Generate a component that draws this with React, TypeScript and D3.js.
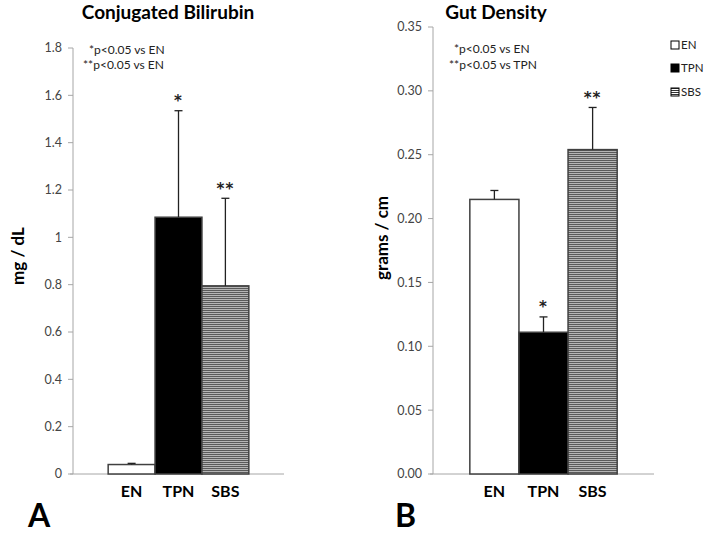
import React from "react";
import * as d3 from "d3";

const groups = ["EN", "TPN", "SBS"];
const bilirubinMean = [0.04, 1.085, 0.795];
const bilirubinErr = [0.005, 0.45, 0.37];
const bilirubinStars = ["", "*", "**"];
const bilirubinTicks = [0, 0.2, 0.4, 0.6, 0.8, 1, 1.2, 1.4, 1.6, 1.8];
const bilirubinNotes = ["*p<0.05  vs EN", "**p<0.05  vs EN"];

const gutMean = [0.215, 0.111, 0.254];
const gutErr = [0.007, 0.012, 0.033];
const gutStars = ["", "*", "**"];
const gutTicks = [0, 0.05, 0.1, 0.15, 0.2, 0.25, 0.3, 0.35];
const gutNotes = ["*p<0.05  vs EN", "**p<0.05  vs TPN"];

const FONT = "Lato, 'Noto Sans', sans-serif";

type PanelProps = {
  x0: number; x1: number; yTop: number; yBottom: number; max: number;
  mean: number[]; err: number[]; stars: string[]; ticks: number[];
  tickFmt: (v: number) => string; title: string; titleX: number;
  yLabel: string; yLabelX: number; yLabelY: number;
  notes: string[]; notesX: number[]; notesY: number[];
  letter: string; letterX: number;
};

function Panel(p: PanelProps) {
  const y = d3.scaleLinear().domain([0, p.max]).range([p.yBottom, p.yTop]);
  const w = p.x1 - p.x0;
  const x = d3.scaleBand<string>().domain(groups).range([p.x0 + w / 6, p.x1 - w / 6]).padding(0);
  const fills = ["#ffffff", "#000000", "url(#stripes)"];
  return (
    <g>
      <text x={p.titleX} y={19} textAnchor="middle" fontFamily={FONT} fontWeight="bold" fontSize={19} fill="#000">{p.title}</text>
      {p.notes.map((n, i) => (
        <text key={i} x={p.notesX[i]} y={p.notesY[i]} fontFamily={FONT} fontSize={12} fill="#222">{n}</text>
      ))}
      <line x1={p.x0} x2={p.x0} y1={p.yTop} y2={p.yBottom} stroke="#a6a6a6" strokeWidth={1} />
      <line x1={p.x0 - 3} x2={p.x1} y1={p.yBottom} y2={p.yBottom} stroke="#a6a6a6" strokeWidth={1} />
      {p.ticks.map((t, i) => (
        <g key={i}>
          <line x1={p.x0 - 5} x2={p.x0} y1={y(t)} y2={y(t)} stroke="#a6a6a6" />
          <text x={p.x0 - 11} y={y(t)} dy="0.35em" textAnchor="end" fontFamily={FONT} fontSize={12.5} fill="#444">{p.tickFmt(t)}</text>
        </g>
      ))}
      {groups.map((g, i) => {
        const bx = x(g)!;
        const bw = x.bandwidth();
        const top = y(p.mean[i]);
        const et = y(p.mean[i] + p.err[i]);
        const cx = bx + bw / 2;
        return (
          <g key={g}>
            <rect x={bx} y={top} width={bw} height={p.yBottom - top} fill={fills[i]} stroke="#404040" strokeWidth={1.5} />
            <line x1={cx} x2={cx} y1={top} y2={et} stroke="#222" strokeWidth={1.3} />
            <line x1={cx - 4} x2={cx + 4} y1={et} y2={et} stroke="#222" strokeWidth={1.3} />
            {p.stars[i] && (
              <text x={cx} y={et - 16} dy="0.75em" textAnchor="middle" fontFamily="'DejaVu Sans', sans-serif" fontWeight="bold" fontSize={15} letterSpacing={1} fill="#222">{p.stars[i]}</text>
            )}
            <text x={cx} y={497} textAnchor="middle" fontFamily={FONT} fontWeight="bold" fontSize={16} fill="#000">{g}</text>
          </g>
        );
      })}
      <text transform={`translate(${p.yLabelX},${p.yLabelY}) rotate(-90)`} textAnchor="middle" dy="0.35em" fontFamily={FONT} fontWeight="bold" fontSize={17} fill="#000">{p.yLabel}</text>
      <text x={p.letterX} y={527} fontFamily={FONT} fontWeight="bold" fontSize={32} fill="#000">{p.letter}</text>
    </g>
  );
}

export default function App() {
  const legendY = [45, 68, 92];
  const legendFill = ["#ffffff", "#000000", "url(#stripesSmall)"];
  return (
    <svg width={708} height={533} style={{ position: "absolute", left: 0, top: 0, background: "#fff" }}>
      <defs>
        <pattern id="stripes" width={4} height={2} patternUnits="userSpaceOnUse">
          <rect width={4} height={2} fill="#b5b5b5" />
          <rect width={4} height={1} fill="#5a5a5a" />
        </pattern>
        <pattern id="stripesSmall" width={4} height={2} patternUnits="userSpaceOnUse">
          <rect width={4} height={2} fill="#ffffff" />
          <rect width={4} height={1} fill="#333" />
        </pattern>
      </defs>
      <rect width={708} height={533} fill="#fff" />
      <Panel x0={73} x1={284} yTop={48} yBottom={474} max={1.8}
        mean={bilirubinMean} err={bilirubinErr} stars={bilirubinStars} ticks={bilirubinTicks}
        tickFmt={(v) => (v === 0 ? "0" : d3.format("~g")(v))}
        title="Conjugated  Bilirubin" titleX={168}
        yLabel="mg / dL" yLabelX={18} yLabelY={256}
        notes={bilirubinNotes} notesX={[89, 83]} notesY={[54, 69]}
        letter="A" letterX={28} />
      <Panel x0={433} x1={654} yTop={27} yBottom={474} max={0.35}
        mean={gutMean} err={gutErr} stars={gutStars} ticks={gutTicks}
        tickFmt={d3.format(".2f")}
        title="Gut Density" titleX={496}
        yLabel="grams / cm" yLabelX={382} yLabelY={238}
        notes={gutNotes} notesX={[454, 449]} notesY={[53, 69]}
        letter="B" letterX={395} />
      {groups.map((g, i) => (
        <g key={g}>
          <rect x={671} y={legendY[i] - 4} width={8} height={8} fill={legendFill[i]} stroke="#000" strokeWidth={1} />
          <text x={681} y={legendY[i]} dy="0.35em" fontFamily={FONT} fontSize={11.5} fill="#222">{g}</text>
        </g>
      ))}
    </svg>
  );
}
